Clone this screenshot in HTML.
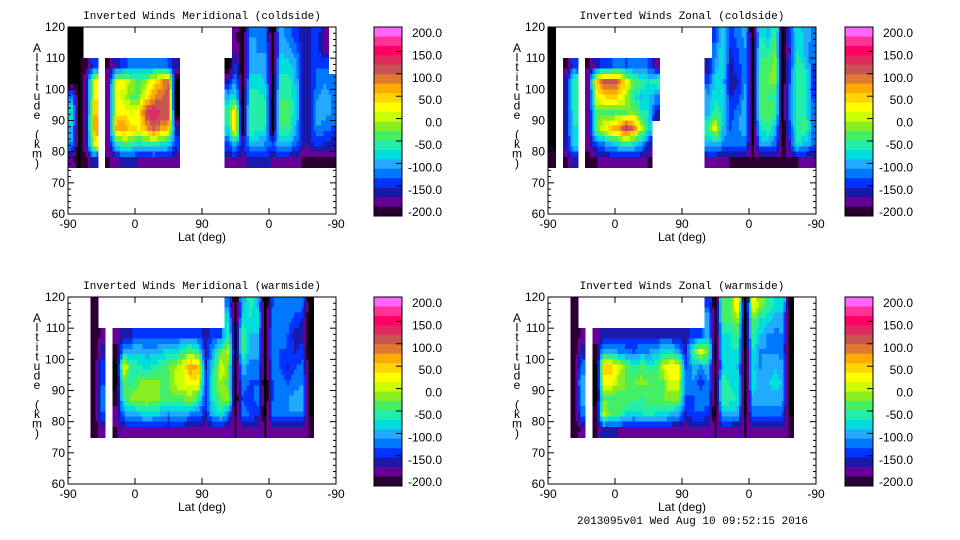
<!DOCTYPE html>
<html><head><meta charset="utf-8">
<style>
html,body{margin:0;padding:0;background:#fff;}
svg{display:block;font-family:"Liberation Sans",sans-serif;}
</style></head>
<body>
<svg id="root" width="960" height="540" viewBox="0 0 960 540"></svg>
<script>
// ---- data (columns of 10 deg along track, rows 120-115 ... 80-75 km) ----
const N = null;
const altRowsTop = [120,115,110,105,100,95,90,85,80];
const xTickLabels = ["-90","0","90","0","-90"];
const yTickLabels = [120,110,100,90,80,70,60];
const cbarLabels = ["200.0","150.0","100.0","50.0","0.0","-50.0","-100.0","-150.0","-200.0"];
const titles = ["Inverted Winds Meridional (coldside)","Inverted Winds Zonal (coldside)","Inverted Winds Meridional (warmside)","Inverted Winds Zonal (warmside)"];
const E = [N,N,N,N,N,N,N,N,N];
const merCold = [
[-210,-210,-210,-210,-100,-60,-80,-100,-170],
[-210,-210,-210,-210,-210,-210,-210,-210,-210],
[N,N,-180,-150,-150,-150,-150,-150,-180],
[N,N,-120,30,40,60,70,30,-140],
E,
[N,N,-180,-160,-160,-160,-160,-160,-180],
[N,N,-150,20,30,40,70,-60,-170],
[N,N,-130,30,10,30,80,-30,-150],
[N,N,-110,-10,-20,20,50,-40,-150],
[N,N,-100,-30,-20,30,40,-60,-160],
[N,N,-110,-10,40,120,70,-50,-160],
[N,N,-100,40,80,140,110,-40,-160],
[N,N,-110,70,100,120,80,-60,-160],
[N,N,-120,100,110,120,60,-70,-160],
[N,N,-150,-210,-210,-210,-150,-130,-170],
E,E,E,E,E,E,
[N,N,-210,-150,-80,-40,-60,-120,-170],
[-170,-160,-130,-100,-60,50,60,-80,-160],
[-210,-210,-210,-210,-210,-210,-210,-150,-170],
[-100,-90,-90,-70,-50,-40,-40,-80,-150],
[-100,-100,-90,-70,-50,-40,-50,-90,-150],
[-110,-100,-90,-80,-60,-50,-60,-100,-150],
[-210,-210,-210,-210,-210,-210,-210,-120,-160],
[-90,-80,-70,-50,-40,-30,-40,-80,-160],
[-110,-90,-70,-50,-40,-30,-40,-80,-170],
[-130,-110,-90,-80,-70,-70,-80,-110,-170],
[-150,-150,-140,-140,-150,-150,-150,-150,-180],
[-140,-140,-150,-150,-140,-140,-140,-150,-180],
[-130,-130,-120,-110,-100,-90,-100,-130,-180],
[-160,-170,-120,-100,-90,-90,-110,-140,-180],
[N,N,N,-110,-100,-100,-120,-150,-180]
];
const zonCold = [
[-210,-210,-210,-210,-210,-210,-210,-210,-190],
E,
[N,N,-180,-150,-140,-140,-140,-150,-180],
[N,N,-120,-40,-40,-50,-60,-70,-150],
E,
[N,N,-180,-170,-170,-170,-170,-170,-190],
[N,N,-150,60,20,-30,-20,-120,-180],
[N,N,-130,110,40,-20,20,-100,-170],
[N,N,-120,120,60,-40,60,-80,-170],
[N,N,-110,100,40,-30,80,-60,-170],
[N,N,-120,30,0,-20,130,-40,-170],
[N,N,-110,-30,-50,-10,90,-60,-170],
[N,N,-110,-40,-80,-50,10,-90,-170],
[N,N,-120,-60,-70,-60,-70,-140,-180],
[N,N,-160,-40,-100,-150,N,N,N],
E,E,E,E,E,E,
[N,N,-150,-120,-90,-80,-40,-90,-160],
[-130,-110,-90,-70,-60,-50,30,-80,-170],
[-70,-60,-60,-80,-70,-60,-80,-100,-170],
[-130,-140,-150,-150,-140,-130,-120,-110,-180],
[-110,-120,-130,-140,-130,-110,-100,-110,-180],
[-90,-100,-100,-100,-90,-80,-90,-110,-180],
[-210,-210,-210,-210,-210,-210,-210,-210,-180],
[-60,-40,-40,-30,-20,-30,-60,-90,-180],
[-80,-50,-30,-20,-40,-30,-40,-90,-180],
[-40,-20,-10,-10,-40,-40,-80,-110,-180],
[-210,-210,-210,-210,-210,-210,-210,-210,-180],
[-130,-140,-130,-120,-110,-110,-130,-140,-180],
[-60,-60,-50,-40,-40,-50,-50,-60,-180],
[-90,-90,-60,-40,-50,-40,-30,-80,-170],
[-100,-110,-120,-120,-120,-110,-100,-110,-170]
];
const merWarm = [
E,E,E,
[-200,-200,-200,-200,-200,-200,-200,-200,-200],
[N,N,-170,-150,-130,-120,-110,-120,-160],
E,
[N,N,-170,-190,-210,-210,-190,-170,-180],
[N,N,-150,-90,20,-30,-40,-100,-160],
[N,N,-140,-80,-40,-50,-10,-90,-160],
[N,N,-130,-80,-50,-20,0,-80,-160],
[N,N,-130,-90,-70,0,0,-60,-160],
[N,N,-130,-90,-50,-10,-10,-70,-160],
[N,N,-130,-80,-40,-20,-20,-80,-160],
[N,N,-130,-70,-20,-20,-30,-100,-160],
[N,N,-120,-70,0,10,-20,-90,-160],
[N,N,-120,-40,20,20,-20,-90,-160],
[N,N,-120,-20,80,30,0,-100,-170],
[N,N,-130,-50,60,30,-50,-110,-170],
[N,N,-150,-150,-140,-130,-130,-140,-170],
[N,N,-130,-90,-60,-40,-50,-80,-170],
[N,N,-120,-30,20,0,-20,-60,-170],
[-110,-60,-40,10,-20,-30,-10,-100,-170],
[-210,-210,-210,-210,-210,-210,-210,-210,-180],
[-90,-70,-30,-40,-80,-110,-120,-110,-170],
[-50,-60,-80,-90,-110,-120,-130,-120,-170],
[-80,-70,-80,-90,-110,-120,-110,-130,-170],
[-210,-210,-210,-210,-210,-210,-210,-210,-180],
[-120,-110,-100,-100,-110,-120,-120,-110,-170],
[-110,-110,-110,-120,-120,-110,-100,-110,-170],
[-100,-110,-120,-120,-140,-120,-100,-100,-170],
[-110,-130,-150,-140,-120,-110,-90,-100,-170],
[-110,-140,-150,-130,-110,-100,-90,-100,-170],
[-210,-210,-210,-210,-210,-210,-210,-210,-180],
E,E,E
];
const zonWarm = [
E,E,E,
[-200,-200,-200,-200,-200,-200,-200,-200,-200],
[N,N,-170,-150,-110,-80,-90,-110,-170],
E,
[N,N,-170,-190,-210,-210,-210,-190,-180],
[N,N,-150,-80,60,30,-20,10,-150],
[N,N,-140,-90,50,30,-40,-30,-150],
[N,N,-140,-100,20,-10,-30,-30,-160],
[N,N,-140,-110,-20,-20,-20,-60,-160],
[N,N,-140,-120,-50,-20,-30,-70,-160],
[N,N,-140,-100,-30,-10,-40,-60,-160],
[N,N,-140,-100,-50,-20,-20,-50,-160],
[N,N,-140,-90,-40,-30,-20,-60,-160],
[N,N,-140,-70,10,-20,-20,-60,-160],
[N,N,-140,-70,40,20,-10,-80,-170],
[N,N,-150,-90,40,20,-10,-90,-170],
[N,N,-150,-140,-120,-110,-120,-140,-170],
[N,N,-130,-40,-90,-100,-120,-120,-170],
[N,N,-120,30,-100,-130,-110,-120,-170],
[-120,-80,-80,-20,-80,-100,-110,-130,-170],
[-210,-210,-210,-210,-210,-210,-210,-210,-180],
[-30,-40,-60,-70,-80,-40,-40,-80,-170],
[-20,-30,-60,-60,-70,-60,-50,-80,-170],
[40,-10,-40,-60,-80,-70,-60,-90,-170],
[-210,-210,-210,-210,-210,-210,-210,-210,-180],
[30,-20,-40,-60,-70,-70,-80,-110,-170],
[-10,-60,-80,-100,-100,-90,-90,-110,-170],
[-40,-70,-100,-100,-90,-80,-90,-110,-170],
[-60,-90,-110,-100,-80,-70,-90,-110,-170],
[-60,-90,-100,-110,-90,-80,-90,-120,-170],
[-210,-210,-210,-210,-210,-210,-210,-210,-180],
E,E,E
];
const palette = ["#ff66ff","#ff3399","#ff0066","#e02a5e","#c85454","#e07a30","#ffaa00","#ffd400","#ffff00","#ccff00","#88ee22","#44ee66","#22eeaa","#00dddd","#22aaff","#0077ff","#0033ff","#1a1aaa","#660099","#2a0033"];

const NS = "http://www.w3.org/2000/svg";
const root = document.getElementById('root');
function mk(tag, attrs, parent){
  const e = document.createElementNS(NS, tag);
  for (const k in attrs) e.setAttribute(k, attrs[k]);
  (parent||root).appendChild(e);
  return e;
}
function colorOf(v){
  if (v <= -205) return "#000";
  let i = Math.floor((200 - v) / 20);
  if (i < 0) i = 0; if (i > 19) i = 19;
  return palette[i];
}
function getv(data, c, r){
  if (c < 0 || c >= data.length) return null;
  const col = data[c];
  if (r < 0 || r >= col.length) return null;
  return col[r];
}
// bilinear value at fractional grid coords (centers at integer+0.5)
function sample(data, c, r, fc, fr){
  const own = data[c][r];
  const gc = fc - 0.5, gr = fr - 0.5;
  const c0 = Math.floor(gc), r0 = Math.floor(gr);
  const tx = gc - c0, ty = gr - r0;
  const v00 = getv(data,c0,r0), v10 = getv(data,c0+1,r0), v01 = getv(data,c0,r0+1), v11 = getv(data,c0+1,r0+1);
  const pick = v => (v === null ? own : v);
  const a = pick(v00), b = pick(v10), d = pick(v01), e = pick(v11);
  return (a*(1-tx) + b*tx)*(1-ty) + (d*(1-tx) + e*tx)*ty;
}
const W = 268, H = 187, SUB = 3;
const panels = [
  {x0:68,y0:27,cb:374,data:merCold,name:"meridional-coldside"},
  {x0:548,y0:27,cb:845,data:zonCold,name:"zonal-coldside"},
  {x0:68,y0:297,cb:374,data:merWarm,name:"meridional-warmside"},
  {x0:548,y0:297,cb:845,data:zonWarm,name:"zonal-warmside"}
];
panels.forEach((p, pi) => {
  const g = mk('g', {});
  
  
  const xs = d => p.x0 + d / 360 * W;
  const ys = a => p.y0 + (120 - a) / 60 * H;
  const t = mk('text', {x: p.x0 + W/2, y: p.y0 - 8, 'text-anchor':'middle', 'font-size':'11', 'font-family':'"Liberation Mono",monospace'}, g);
  t.textContent = titles[pi];
  
  
  const cells = mk('g', {'shape-rendering':'crispEdges'}, g);
  
  
  p.data.forEach((col, ci) => {
    col.forEach((v, ri) => {
      if (v === null) return;
      for (let sx = 0; sx < SUB; sx++) {
        for (let sy = 0; sy < SUB; sy++) {
          const fc = ci + (sx + 0.5) / SUB, fr = ri + (sy + 0.5) / SUB;
          const val = sample(p.data, ci, ri, fc, fr);
          const x1 = xs((ci + sx / SUB) * 10), x2 = xs((ci + (sx+1) / SUB) * 10);
          const y1 = ys(altRowsTop[ri] - sy * 5 / SUB), y2 = ys(altRowsTop[ri] - (sy+1) * 5 / SUB);
          const r = mk('rect', {x:x1.toFixed(2), y:y1.toFixed(2), width:(x2-x1+0.5).toFixed(2), height:(y2-y1+0.5).toFixed(2), fill:colorOf(val)}, cells);
          
          
        }
      }
    });
  });
  const fr = mk('rect', {x:p.x0, y:p.y0, width:W, height:H, fill:'none', stroke:'#000', 'stroke-width':1}, g);
  
  
  for (let a = 60; a <= 120; a += 2) {
    const len = (a % 10 === 0) ? 6 : 3;
    const y = ys(a);
    mk('line', {x1:p.x0, x2:p.x0+len, y1:y, y2:y, stroke:'#000'}, g);
    mk('line', {x1:p.x0+W, x2:p.x0+W-len, y1:y, y2:y, stroke:'#000'}, g);
  }
  yTickLabels.forEach(a => {
    const tl = mk('text', {x:p.x0 - 3, y:ys(a) + 4, 'text-anchor':'end', 'font-size':'12'}, g);
    tl.textContent = a;
    
    
  });
  xTickLabels.forEach((lab, i) => {
    const x = xs(i * 90);
    mk('line', {x1:x, x2:x, y1:p.y0+H, y2:p.y0+H-6, stroke:'#000'}, g);
    mk('line', {x1:x, x2:x, y1:p.y0, y2:p.y0+6, stroke:'#000'}, g);
    const tl = mk('text', {x:x, y:p.y0 + H + 14, 'text-anchor':'middle', 'font-size':'12'}, g);
    tl.textContent = lab;
    
    
  });
  const xt = mk('text', {x:p.x0 + W/2, y:p.y0 + H + 27, 'text-anchor':'middle', 'font-size':'12'}, g);
  xt.textContent = 'Lat (deg)';
  
  
  const yt = mk('text', {x:p.x0 - 31, y:p.y0 + 21, 'text-anchor':'middle', 'font-size':'12'}, g);
  
  
  'Altitude (km)'.split('').forEach((ch, i) => {
    const ts = mk('tspan', {x:p.x0 - 31, y:(p.y0 + 25 + i * 9.6).toFixed(1)}, yt);
    ts.textContent = ch;
  });
  const cb = mk('g', {}, g);
  
  
  const bh = 189 / palette.length;
  palette.forEach((c, i) => {
    const r = mk('rect', {x:p.cb, y:(p.y0 + i*bh).toFixed(2), width:28, height:(bh+0.4).toFixed(2), fill:c}, cb);
    
    
  });
  mk('rect', {x:p.cb, y:p.y0, width:28, height:189, fill:'none', stroke:'#000'}, cb);
  cbarLabels.forEach((lab, i) => {
    const y = p.y0 + 6 + i * 22.4;
    if (i > 0 && i < 8) mk('line', {x1:p.cb+28, x2:p.cb+22, y1:y-4, y2:y-4, stroke:'#000'}, cb);
    const tl = mk('text', {x:p.cb + 68, y:y + 4, 'text-anchor':'end', 'font-size':'12'}, cb);
    tl.textContent = lab;
    
    
  });
});
const ft = mk('text', {x:577, y:524, 'font-size':'11', 'font-family':'"Liberation Mono",monospace'});
ft.textContent = '2013095v01 Wed Aug 10 09:52:15 2016';


</script>
</body></html>
